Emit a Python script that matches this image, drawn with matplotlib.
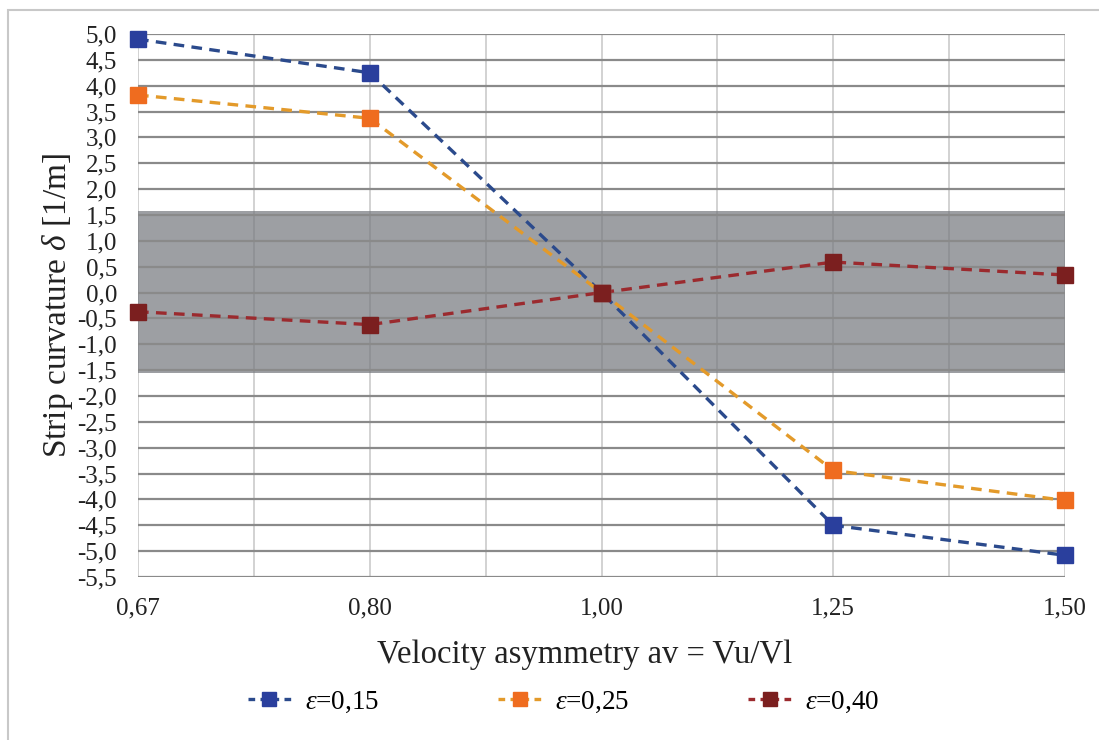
import matplotlib
matplotlib.use("Agg")
import matplotlib.pyplot as plt
from matplotlib.patches import Rectangle
from matplotlib.lines import Line2D

# ---- data ----
x_labels = ["0,67", "0,80", "1,00", "1,25", "1,50"]
eps_015 = [4.90, 4.25, 0.0, -4.50, -5.08]
eps_025 = [3.82, 3.37, 0.0, -3.44, -4.02]
eps_040 = [-0.37, -0.62, 0.0, 0.59, 0.34]
series_names = ["$\\varepsilon$=0,15", "$\\varepsilon$=0,25", "$\\varepsilon$=0,40"]
y_ticks = [5.0, 4.5, 4.0, 3.5, 3.0, 2.5, 2.0, 1.5, 1.0, 0.5, 0.0,
           -0.5, -1.0, -1.5, -2.0, -2.5, -3.0, -3.5, -4.0, -4.5, -5.0, -5.5]
band_low, band_high = -1.55, 1.57

colors = ["#2a3f9d", "#ef6c1f", "#7b1f1f"]
line_colors = ["#2b4a8c", "#e39a2a", "#9b2a2e"]

plt.rcParams["font.family"] = ["Liberation Serif", "DejaVu Serif"]
plt.rcParams["mathtext.fontset"] = "custom"
plt.rcParams["mathtext.rm"] = "Liberation Serif"
plt.rcParams["mathtext.it"] = "Liberation Serif:italic"

W, H = 1099, 740
fig = plt.figure(figsize=(W / 100, H / 100), dpi=100)
fig.patch.set_facecolor("white")

# outer light border
fig.add_artist(Rectangle((8 / W, -5 / H), (W + 5 - 8) / W, (H - 10 + 5) / H,
                         transform=fig.transFigure, fill=False,
                         edgecolor="#c8c8c8", linewidth=1.5))

left, right = 138 / W, 1065 / W
top, bottom = 1 - 34 / H, 1 - 577 / H
ax = fig.add_axes([left, bottom, right - left, top - bottom])

xs = list(range(len(x_labels)))
ax.set_xlim(0, len(x_labels) - 1)
ax.set_ylim(min(y_ticks), max(y_ticks))

# gray band
ax.axhspan(band_low, band_high, color="#9d9fa3", zorder=0.5, lw=0)

# grid
for yv in y_ticks:
    ax.axhline(yv, color="#8a8a8a", lw=1.6, zorder=1)
vx = [i * 0.5 for i in range(2 * (len(x_labels) - 1) + 1)]
for v in vx:
    ax.axvline(v, color="#cfcfcf", lw=1.3, zorder=0.4)
ax.vlines(vx, band_low, band_high, color="#8f9195", lw=1.3, zorder=0.6)

for k, vals in enumerate([eps_015, eps_025, eps_040]):
    ax.plot(xs, vals, linestyle=(0, (3.2, 2.2)), color=line_colors[k], lw=2.4,
            zorder=3, clip_on=False)
    ax.plot(xs, vals, linestyle="none", marker="s", markersize=12,
            color=colors[k], zorder=4, clip_on=False)

for s in ax.spines.values():
    s.set_visible(False)

ax.set_yticks(y_ticks)
ax.set_yticklabels([f"{v:.1f}".replace(".", ",") for v in y_ticks])
ax.set_xticks(xs)
ax.set_xticklabels(x_labels)
ax.tick_params(axis="y", length=0, pad=15, labelsize=18, labelcolor="#222222")
ax.tick_params(axis="x", length=0, pad=15, labelsize=18, labelcolor="#222222")

xl = ax.set_xlabel("Velocity asymmetry av = Vu/Vl", fontsize=23.5, color="#222222")
xl.set_va("center")
ax.xaxis.set_label_coords(0.482, -0.144)
ax.set_ylabel("Strip curvature $\\delta$ [1/m]", fontsize=24, color="#222222",
              labelpad=2)

handles = []
for k in range(len(series_names)):
    handles.append(Line2D([0], [0], linestyle=(0, (2.0, 1.6)), color=line_colors[k],
                          lw=2.4, marker="s", markersize=9.5,
                          markerfacecolor=colors[k], markeredgecolor=colors[k]))
fig.legend(handles, series_names, loc="center", bbox_to_anchor=(0.513, 1 - 702 / H),
           ncol=3, frameon=False, fontsize=19.5, handlelength=1.6,
           columnspacing=4.4, handletextpad=0.5)

fig.savefig("out.png", dpi=100, facecolor="white")
